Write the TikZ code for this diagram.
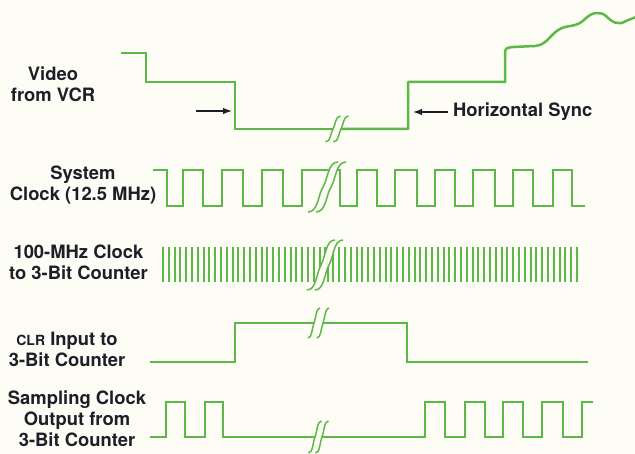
\documentclass[tikz,border=0pt]{standalone}
\usepackage{fontspec}
\setmainfont{TeX Gyre Heros}
\usetikzlibrary{arrows.meta}
\definecolor{sig}{RGB}{92,184,72}
\definecolor{ink}{RGB}{30,30,40}
\definecolor{paper}{RGB}{253,252,245}
\newcommand\brkS[4]{\draw[brkline] ({#1-#3/2},{#2+#4/2}) .. controls ({#1-#3/6},{#2+#4/2}) and ({#1-#3/6},{#2+#4/6}) .. (#1,#2) .. controls ({#1+#3/6},{#2-#4/6}) and ({#1+#3/6},{#2-#4/2}) .. ({#1+#3/2},{#2-#4/2});}
\begin{document}
\begin{tikzpicture}[x=1pt,y=-1pt,
  wave/.style={draw=sig,line width=2.5pt,line join=miter},
  tick/.style={draw=sig,line width=1.6pt},
  brkline/.style={draw=sig,line width=1.5pt},
  lbl/.style={text=ink,font=\bfseries\fontsize{18.4}{21}\selectfont,align=center,inner sep=0pt},
  pointer/.style={draw=ink,line width=1.3pt,-{Latex[length=9pt,width=6.5pt]}}]
\fill[paper] (0,0) rectangle (635,454);
\useasboundingbox (0,0) rectangle (635,454);

% labels
\node[lbl] (lvid) at (53,84.5) {Video\\from VCR};
\node[lbl,anchor=west] (lhs) at (453,112) {Horizontal Sync};
\node[lbl] (lsys) at (83,185) {System\\Clock (12.5 MHz)};
\node[lbl] (lhund) at (78.5,262.5) {100-MHz Clock\\to 3-Bit Counter};
\node[lbl] (lclr) at (67,349) {{\fontsize{14}{14}\selectfont CLR} Input to\\3-Bit Counter};
\node[lbl] (lsmp) at (77,419) {Sampling Clock\\Output from\\3-Bit Counter};

% pointers
\coordinate (paS) at (196,111);
\coordinate (paE) at (232,111);
\coordinate (hsE) at (413,112);
\draw[pointer] (paS) -- (paE);
\draw[pointer] ([xshift=-5pt]lhs.west) -- (hsE);

% video from VCR
\draw[wave] (121,53) -- (146,53) -- (146,82) -- (235,82) -- (235,129) -- (333,129);
\draw[wave,line join=round] (341,129) -- (408,129) -- (408,82) -- (505,82) -- (505,56)
  .. controls (505,48) .. (513,47) -- (535,46)
  .. controls (548,45) and (550,33) .. (562,28)
  .. controls (570,25) and (577,27) .. (585,19)
  .. controls (592,12) and (600,11) .. (606,16)
  .. controls (612,22) and (618,26) .. (626,21) -- (636,17);
\brkS{333}{129}{15}{26}
\brkS{341}{129}{15}{26}

% system clock
\begin{scope}
\clip (140,150) -- (338,150) -- (338,162) .. controls (328,162) and (328,178.7) .. (323,187) .. controls (318,195.3) and (318,212) .. (308,212) -- (308,225) -- (140,225) -- cycle;
\draw[wave] (153,170) -- (167,170) -- (167,206) -- (183,206) -- (183,170) -- (203,170) -- (203,206) -- (222,206) -- (222,170) -- (243,170) -- (243,206) -- (262,206) -- (262,170) -- (283,170) -- (283,206) -- (302,206) -- (302,170) -- (350,170);
\end{scope}
\begin{scope}
\clip (600,150) -- (346,150) -- (346,162) .. controls (336,162) and (336,178.7) .. (331,187) .. controls (326,195.3) and (326,212) .. (316,212) -- (316,225) -- (600,225) -- cycle;
\draw[wave] (305,170) -- (340,170) -- (340,206) -- (357,206) -- (357,170) -- (377,170) -- (377,206) -- (395,206) -- (395,170) -- (417,170) -- (417,206) -- (435,206) -- (435,170) -- (455,170) -- (455,206) -- (473,206) -- (473,170) -- (495,170) -- (495,206) -- (513,206) -- (513,170) -- (533,170) -- (533,206) -- (553,206) -- (553,170) -- (572,170) -- (572,206) -- (585,206);
\end{scope}
\brkS{323}{187}{30}{50}
\brkS{331}{187}{30}{50}

% 100 MHz clock
\begin{scope}
\clip (140,230) -- (335,230) -- (335,240) .. controls (325.67,240) and (325.67,256.7) .. (321,265) .. controls (316.33,273.3) and (316.33,290) .. (307,290) -- (307,300) -- (140,300) -- cycle;
\foreach \i in {0,...,29} \draw[tick] ({round(163+5.8*\i)},247) -- ++(0,35);
\end{scope}
\begin{scope}
\clip (600,230) -- (343,230) -- (343,240) .. controls (333.67,240) and (333.67,256.7) .. (329,265) .. controls (324.33,273.3) and (324.33,290) .. (315,290) -- (315,300) -- (600,300) -- cycle;
\foreach \i in {0,...,46} \draw[tick] ({round(577-5.8*\i)},247) -- ++(0,35);
\end{scope}
\brkS{321}{265}{28}{50}
\brkS{329}{265}{28}{50}

% CLR input
\draw[wave] (150,362) -- (235,362) -- (235,323) -- (314,323);
\draw[wave] (323,323) -- (407,323) -- (407,362) -- (588,362);
\brkS{314}{323}{12}{30}
\brkS{323}{323}{12}{30}

% sampling clock output
\draw[wave] (150,437) -- (166,437) -- (166,402) -- (185,402) -- (185,437) -- (205,437) -- (205,402) -- (223,402) -- (223,437) -- (315,437);
\draw[wave] (322,437) -- (425,437) -- (425,402) -- (445,402) -- (445,437) -- (465,437) -- (465,402) -- (485,402) -- (485,437) -- (503,437) -- (503,402) -- (523,402) -- (523,437) -- (542,437) -- (542,402) -- (563,402) -- (563,437) -- (582,437) -- (582,402) -- (593,402);
\brkS{315}{437}{13}{32}
\brkS{322}{437}{13}{32}
\end{tikzpicture}
\end{document}
